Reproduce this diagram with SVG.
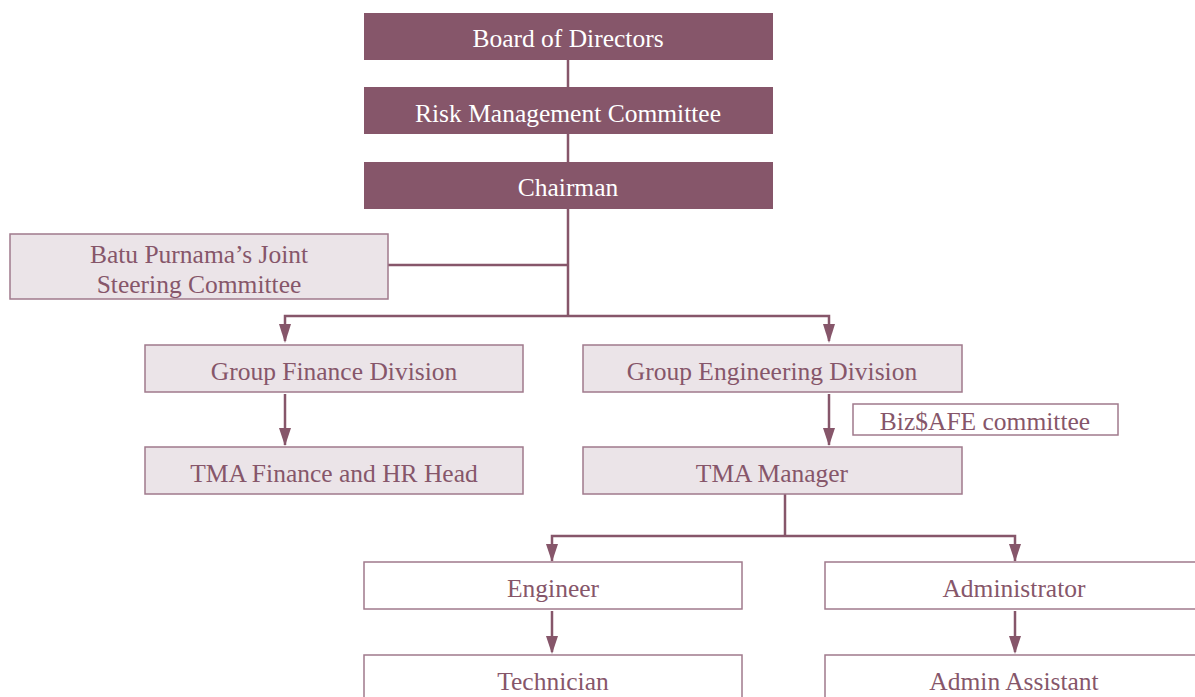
<svg xmlns="http://www.w3.org/2000/svg" width="1195" height="697" viewBox="0 0 1195 697">
<defs>
<style>
.dark{fill:#86566A;}
.light{fill:#EBE4E8;stroke:#A07A8C;stroke-width:1.5;}
.white{fill:#FFFFFF;stroke:#A07A8C;stroke-width:1.5;}
text{font-family:"Liberation Serif","DejaVu Serif",serif;font-size:25.5px;text-anchor:middle;dominant-baseline:central;}
.tw{fill:#FFFFFF;}
.tp{fill:#86566A;}
.conn{fill:none;stroke:#86566A;stroke-width:2.5;}
</style>
</defs>
<rect width="1195" height="697" fill="#FFFFFF"/>
<g id="connectors">
<path class="conn" d="M568,59 V316"/>
<path class="conn" d="M388,265 H568"/>
<path class="conn" d="M285,341 V316 H829 V341"/>
<path class="conn" d="M285,394 V445"/>
<path class="conn" d="M829,394 V445"/>
<path class="conn" d="M785,494 V536"/>
<path class="conn" d="M552,561 V536 H1015 V561"/>
<path class="conn" d="M552,611 V652"/>
<path class="conn" d="M1015,611 V652"/>
<g fill="#86566A">
<path d="M279,324 L291,324 L285,343 z"/>
<path d="M823,324 L835,324 L829,343 z"/>
<path d="M279,428 L291,428 L285,446 z"/>
<path d="M823,428 L835,428 L829,446 z"/>
<path d="M546,544 L558,544 L552,562 z"/>
<path d="M1009,544 L1021,544 L1015,562 z"/>
<path d="M546,636 L558,636 L552,654 z"/>
<path d="M1009,636 L1021,636 L1015,654 z"/>
</g>
</g>
<g id="board"><rect class="dark" x="364" y="13" width="409" height="47"/><text class="tw" x="568" y="38">Board of Directors</text></g>
<g id="risk"><rect class="dark" x="364" y="87" width="409" height="47"/><text class="tw" x="568" y="113">Risk Management Committee</text></g>
<g id="chairman"><rect class="dark" x="364" y="162" width="409" height="47"/><text class="tw" x="568" y="187">Chairman</text></g>
<g id="batu"><rect class="light" x="10" y="234" width="378" height="65"/><text class="tp" x="199" y="254">Batu Purnama’s Joint</text><text class="tp" x="199" y="284">Steering Committee</text></g>
<g id="finance"><rect class="light" x="145" y="345" width="378" height="47"/><text class="tp" x="334" y="371">Group Finance Division</text></g>
<g id="engineering"><rect class="light" x="583" y="345" width="379" height="47"/><text class="tp" x="772" y="371">Group Engineering Division</text></g>
<g id="bizafe"><rect class="white" x="853" y="404" width="265" height="31"/><text class="tp" x="985" y="421">Biz$AFE committee</text></g>
<g id="tmafin"><rect class="light" x="145" y="447" width="378" height="47"/><text class="tp" x="334" y="473">TMA Finance and HR Head</text></g>
<g id="tmamgr"><rect class="light" x="583" y="447" width="379" height="47"/><text class="tp" x="772" y="473">TMA Manager</text></g>
<g id="engineer"><rect class="white" x="364" y="562" width="378" height="47"/><text class="tp" x="553" y="588">Engineer</text></g>
<g id="admin"><rect class="white" x="825" y="562" width="378" height="47"/><text class="tp" x="1014" y="588">Administrator</text></g>
<g id="technician"><rect class="white" x="364" y="655" width="378" height="47"/><text class="tp" x="553" y="681">Technician</text></g>
<g id="adminasst"><rect class="white" x="825" y="655" width="378" height="47"/><text class="tp" x="1014" y="681">Admin Assistant</text></g>
</svg>
